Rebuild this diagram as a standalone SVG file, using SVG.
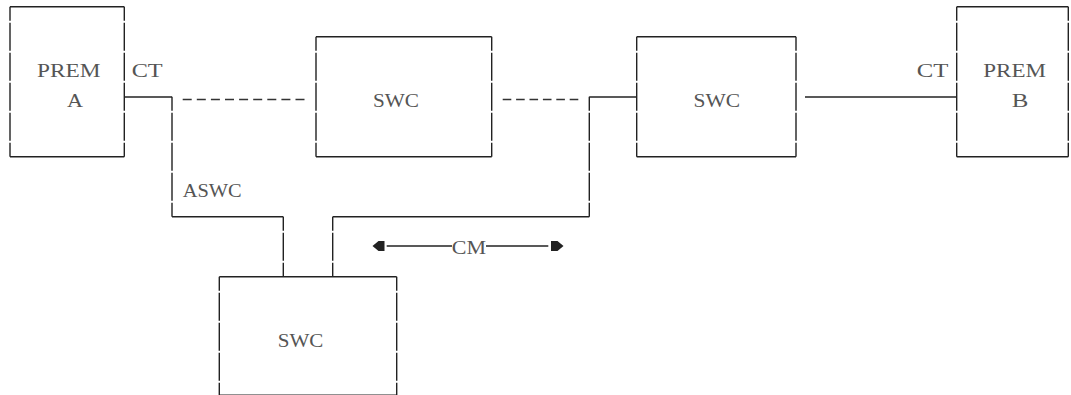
<svg xmlns="http://www.w3.org/2000/svg" width="1071" height="395" viewBox="0 0 1071 395">
<defs>
<style>
.h{stroke:#222;stroke-width:1.4;fill:none}
.v{stroke:#222;stroke-width:1.4;fill:none;stroke-dasharray:28 2;stroke-dashoffset:14}
.t{font-family:"Liberation Serif","DejaVu Serif",serif;font-size:18.5px;fill:#555}
.dl{stroke:#333;stroke-width:1.6;fill:none}
.ah{fill:#222}
</style>
</defs>
<rect width="1071" height="395" fill="#fff"/>
<g id="premA">
<line class="h" x1="10" y1="6.7" x2="124.3" y2="6.7"/>
<line class="h" x1="10" y1="156.7" x2="124.3" y2="156.7"/>
<line class="v" x1="10" y1="6.7" x2="10" y2="156.7"/>
<line class="v" x1="124.3" y1="6.7" x2="124.3" y2="156.7"/>
<text class="t" x="37" y="76.5" textLength="63.5" lengthAdjust="spacingAndGlyphs">PREM</text>
<text class="t" x="67" y="106.5" textLength="16" lengthAdjust="spacingAndGlyphs">A</text>
</g>
<g id="swc1">
<line class="h" x1="316" y1="36.7" x2="491.7" y2="36.7"/>
<line class="h" x1="316" y1="156.7" x2="491.7" y2="156.7"/>
<line class="v" x1="316" y1="36.7" x2="316" y2="156.7"/>
<line class="v" x1="491.7" y1="36.7" x2="491.7" y2="156.7"/>
<text class="t" x="373" y="106.5" textLength="46" lengthAdjust="spacingAndGlyphs">SWC</text>
</g>
<g id="swc2">
<line class="h" x1="636.7" y1="36.7" x2="796" y2="36.7"/>
<line class="h" x1="636.7" y1="156.7" x2="796" y2="156.7"/>
<line class="v" x1="636.7" y1="36.7" x2="636.7" y2="156.7"/>
<line class="v" x1="796" y1="36.7" x2="796" y2="156.7"/>
<text class="t" x="693.5" y="106.5" textLength="46.5" lengthAdjust="spacingAndGlyphs">SWC</text>
</g>
<g id="premB">
<line class="h" x1="956.7" y1="6.7" x2="1068.3" y2="6.7"/>
<line class="h" x1="956.7" y1="156.7" x2="1068.3" y2="156.7"/>
<line class="v" x1="956.7" y1="6.7" x2="956.7" y2="156.7"/>
<line class="v" x1="1068.3" y1="6.7" x2="1068.3" y2="156.7"/>
<text class="t" x="983.3" y="76.5" textLength="62.7" lengthAdjust="spacingAndGlyphs">PREM</text>
<text class="t" x="1011.7" y="106.5" textLength="16.6" lengthAdjust="spacingAndGlyphs">B</text>
</g>
<g id="swc3">
<line class="h" x1="219.3" y1="276.7" x2="396.7" y2="276.7"/>
<line class="h" x1="219.3" y1="395.3" x2="396.7" y2="395.3"/>
<line class="v" x1="219.3" y1="276.7" x2="219.3" y2="396.7"/>
<line class="v" x1="396.7" y1="276.7" x2="396.7" y2="396.7"/>
<text class="t" x="277.7" y="346.5" textLength="45.6" lengthAdjust="spacingAndGlyphs">SWC</text>
</g>
<g id="connectors">
<line class="h" x1="124.3" y1="97" x2="172" y2="97"/>
<line class="v" x1="172" y1="96.7" x2="172" y2="216.7"/>
<line class="h" x1="172" y1="216.7" x2="283.3" y2="216.7"/>
<line class="v" x1="283.3" y1="216.7" x2="283.3" y2="276.7"/>
<line class="dl" x1="182.7" y1="99.5" x2="305.7" y2="99.5" stroke-dasharray="9 5.1"/>
<line class="dl" x1="502.7" y1="99.5" x2="578.3" y2="99.5" stroke-dasharray="8.6 4.8"/>
<line class="h" x1="589.3" y1="97" x2="636.7" y2="97"/>
<line class="v" x1="589.3" y1="96.7" x2="589.3" y2="216.7"/>
<line class="h" x1="332.7" y1="216.7" x2="589.3" y2="216.7"/>
<line class="v" x1="332.7" y1="216.7" x2="332.7" y2="276.7"/>
<line class="h" x1="805" y1="97" x2="956.7" y2="97"/>
<text class="t" x="131.7" y="76.5" textLength="31" lengthAdjust="spacingAndGlyphs">CT</text>
<text class="t" x="916.7" y="76.5" textLength="31.6" lengthAdjust="spacingAndGlyphs">CT</text>
<text class="t" x="182.7" y="196.5" textLength="59" lengthAdjust="spacingAndGlyphs">ASWC</text>
<g id="cm">
<polygon class="ah" points="372.5,246 378.5,241 384.5,241 384.5,251 378.5,251"/>
<line class="h" x1="386.7" y1="246" x2="452" y2="246"/>
<text class="t" x="451.7" y="253.5" textLength="34.3" lengthAdjust="spacingAndGlyphs">CM</text>
<line class="h" x1="486" y1="246" x2="548.3" y2="246"/>
<polygon class="ah" points="563.5,246 557.5,241 551,241 551,251 557.5,251"/>
</g>
</g>
</svg>
